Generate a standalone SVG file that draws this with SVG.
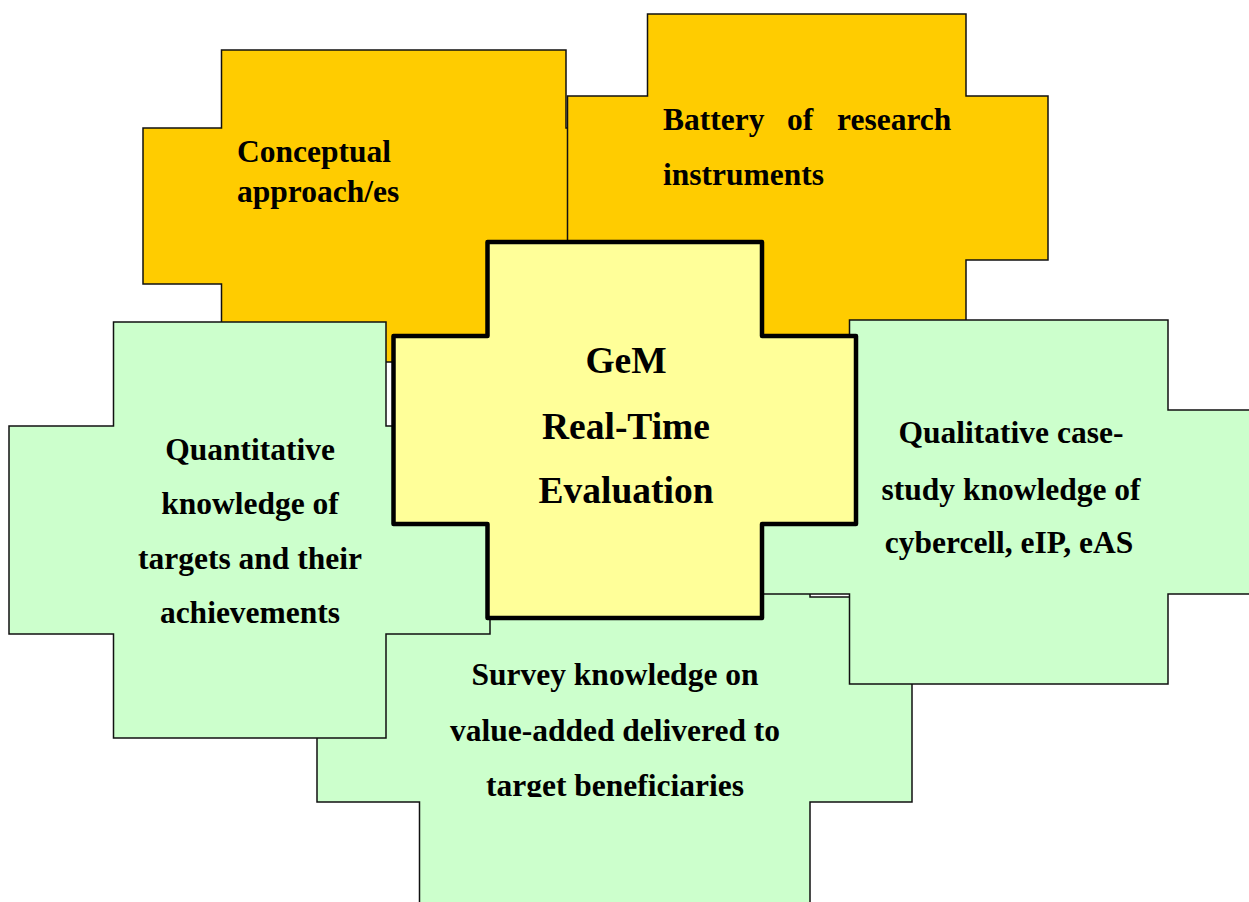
<svg xmlns="http://www.w3.org/2000/svg" width="1249" height="902" viewBox="0 0 1249 902">
  <style>
    .shape { stroke: #111; stroke-width: 1.5; stroke-linejoin: miter; }
    .orange { fill: #FFCC00; }
    .green { fill: #CCFFCC; }
    .core { fill: #FFFF99; stroke: #000; stroke-width: 4.5; stroke-linejoin: round; }
    .lbl { font-family: "Liberation Serif", "Times New Roman", serif; font-weight: bold; font-size: 31.5px; fill: #000; }
    .mid { text-anchor: middle; }
    .big { font-size: 37.5px; }
  </style>
  <defs>
    <clipPath id="surveyClip">
      <rect x="300" y="590" width="640" height="207"/>
    </clipPath>
  </defs>
  <rect x="0" y="0" width="1249" height="902" fill="#FFFFFF"/>

  <g id="conceptual">
    <path class="shape orange" d="M221.5 50 H566 V128 H644 V284 H566 V362 H221.5 V284 H143 V128 H221.5 Z"/>
    <text class="lbl" x="237" y="162">Conceptual</text>
    <text class="lbl" x="237" y="202">approach/es</text>
  </g>

  <g id="battery">
    <path class="shape orange" d="M647.5 14 H966 V96 H1048 V260 H966 V342 H647.5 V260 H567.5 V96 H647.5 Z"/>
    <text class="lbl" x="663" y="130">Battery</text>
    <text class="lbl" x="787" y="130">of</text>
    <text class="lbl" x="837" y="130">research</text>
    <text class="lbl" x="663" y="185">instruments</text>
  </g>

  <g id="survey">
    <path class="shape green" d="M419.5 497 H810 V597 H912 V802 H810 V960 H419.5 V802 H317 V597 H419.5 Z"/>
    <g clip-path="url(#surveyClip)">
      <text class="lbl mid" x="615" y="685">Survey knowledge on</text>
      <text class="lbl mid" x="615" y="741">value-added delivered to</text>
      <text class="lbl mid" x="615" y="796">target beneficiaries</text>
    </g>
  </g>

  <g id="quantitative">
    <path class="shape green" d="M113.5 322 H386 V426 H490 V634 H386 V738 H113.5 V634 H9 V426 H113.5 Z"/>
    <text class="lbl mid" x="250" y="460">Quantitative</text>
    <text class="lbl mid" x="250" y="514">knowledge of</text>
    <text class="lbl mid" x="250" y="569">targets and their</text>
    <text class="lbl mid" x="250" y="623">achievements</text>
  </g>

  <g id="qualitative">
    <path class="shape green" d="M849.5 320 H1168 V410 H1258 V594 H1168 V684 H849.5 V594 H759 V410 H849.5 Z"/>
    <text class="lbl mid" x="1011" y="443">Qualitative case-</text>
    <text class="lbl mid" x="1011" y="500">study knowledge of</text>
    <text class="lbl mid" x="1009" y="553">cybercell, eIP, eAS</text>
  </g>

  <g id="gem">
    <path class="core" d="M487.5 242 H762 V336 H856 V524 H762 V618 H487.5 V524 H393.5 V336 H487.5 Z"/>
    <text class="lbl big mid" x="626" y="373">GeM</text>
    <text class="lbl big mid" x="626" y="439">Real-Time</text>
    <text class="lbl big mid" x="626" y="503">Evaluation</text>
  </g>

  <g id="connectors"></g>
</svg>
